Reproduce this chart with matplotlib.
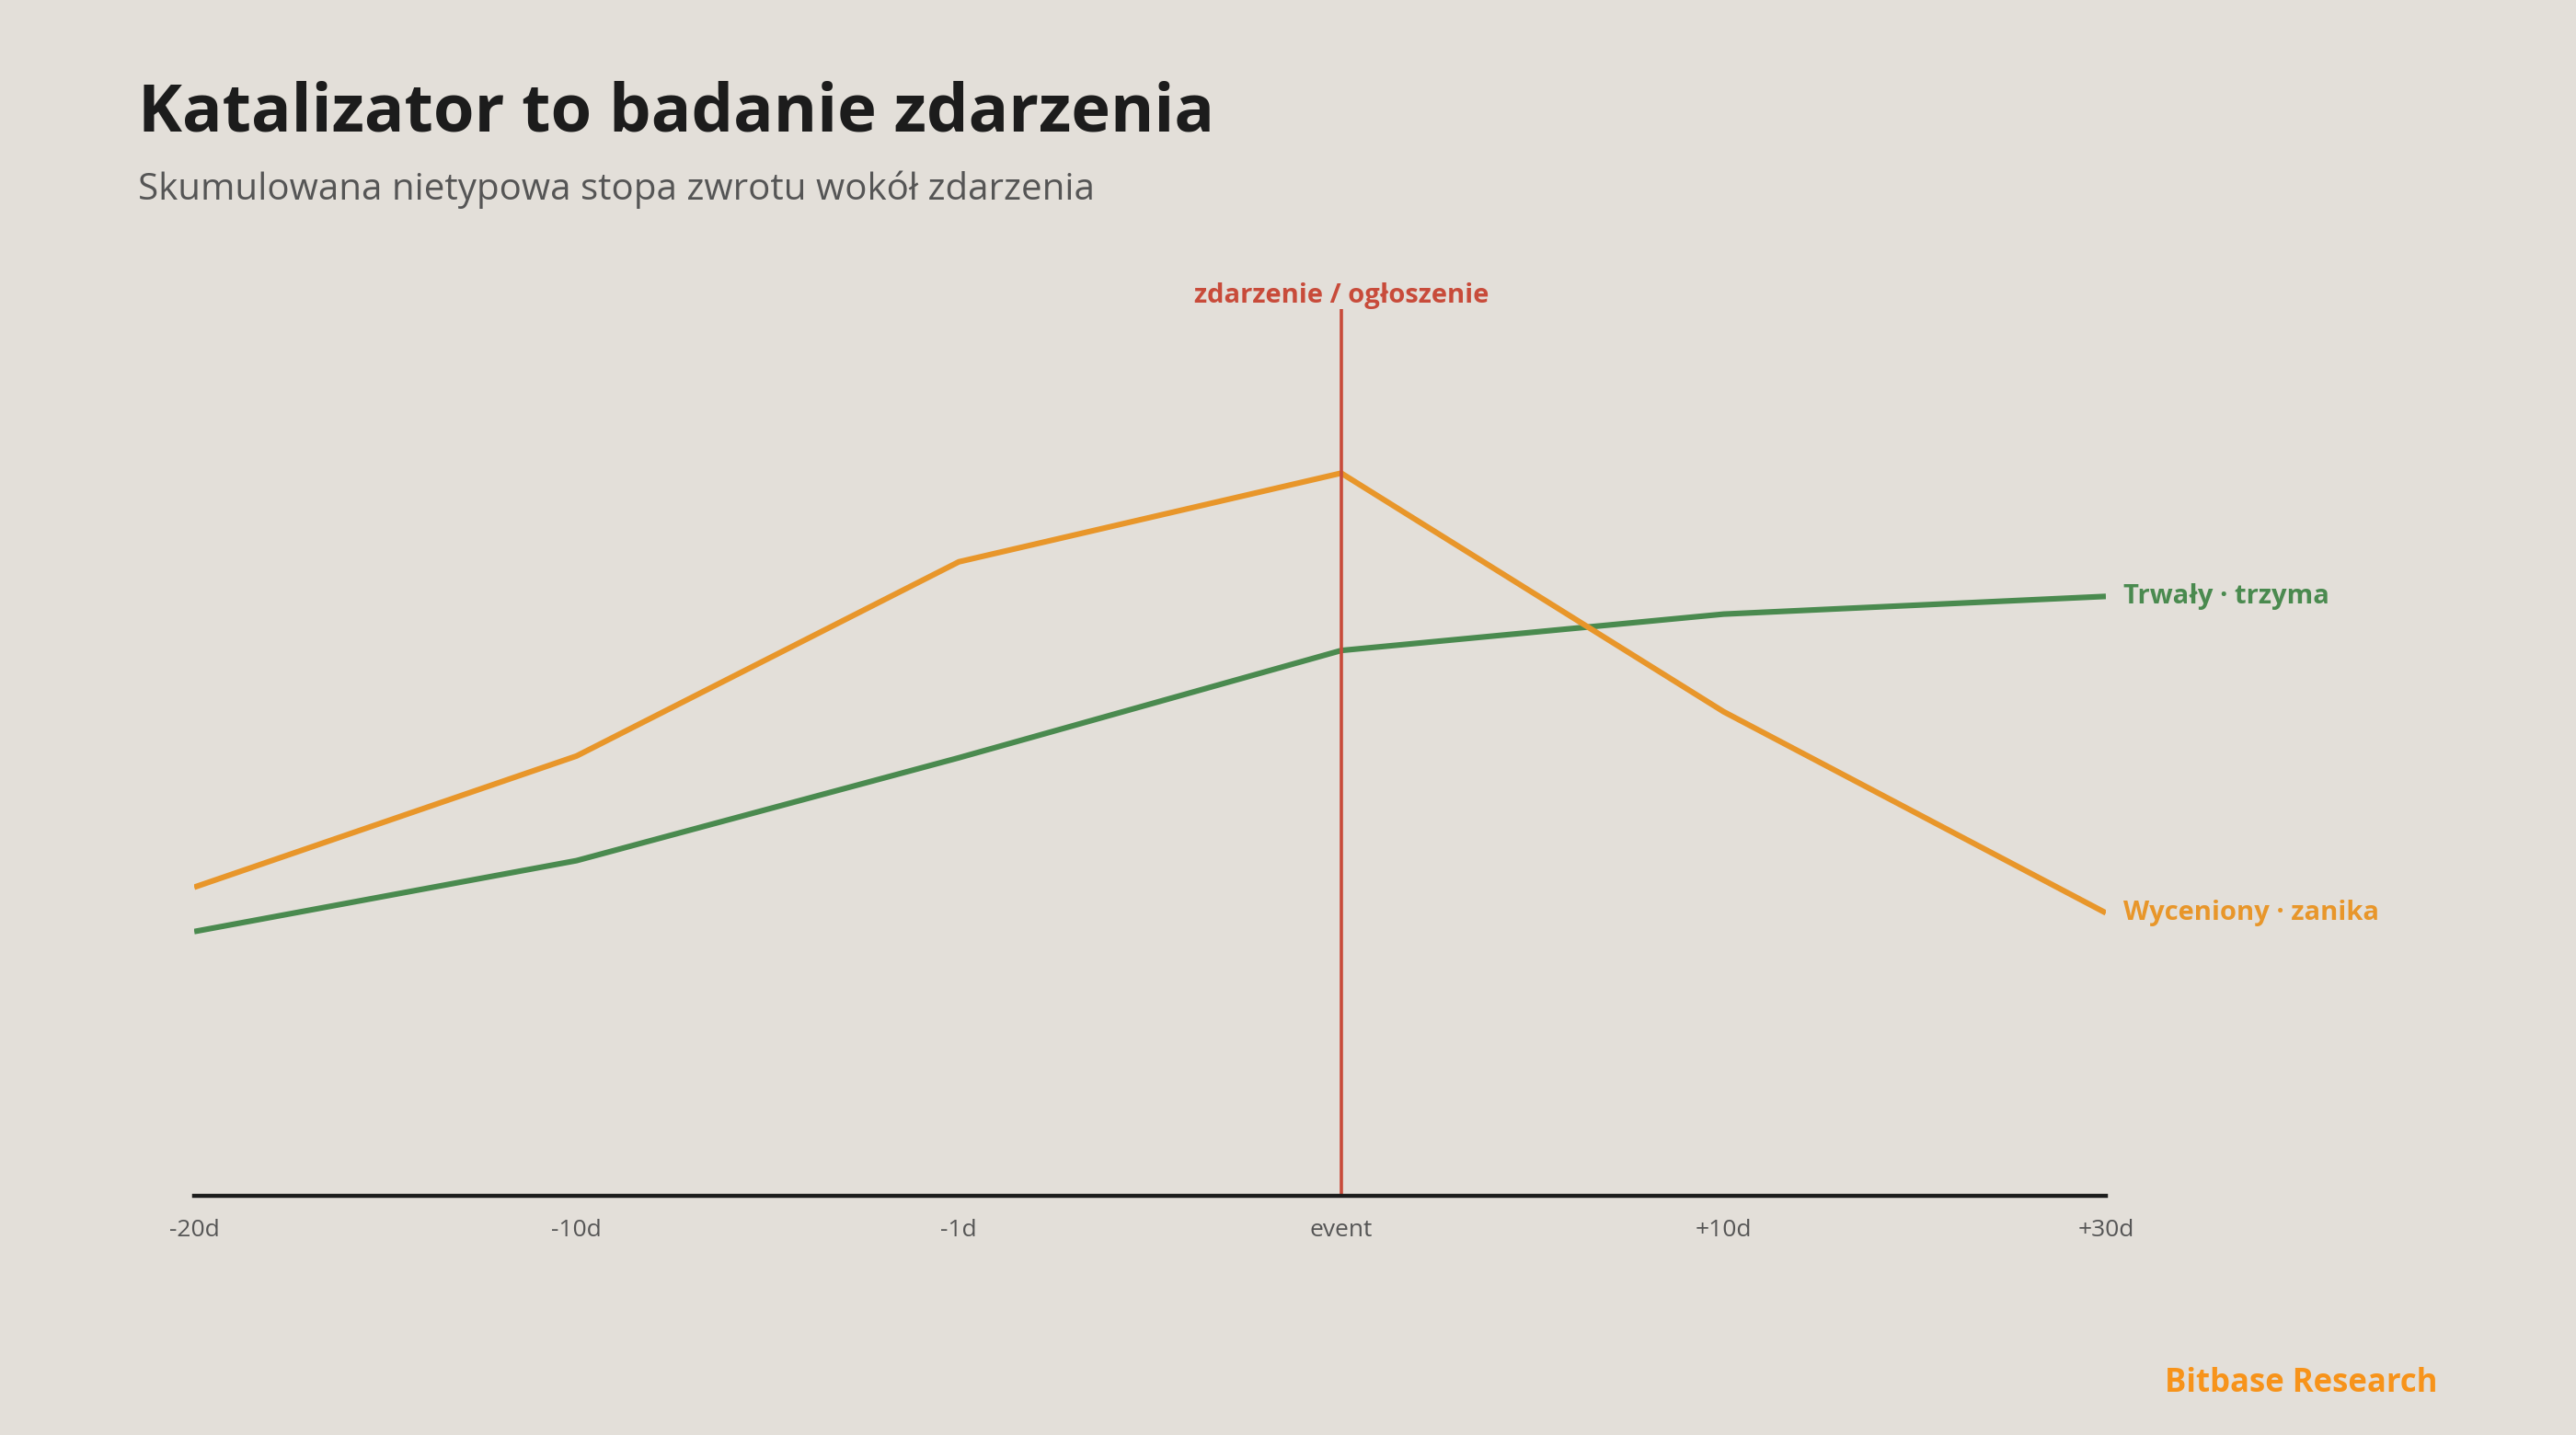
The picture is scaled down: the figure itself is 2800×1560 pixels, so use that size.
import matplotlib
matplotlib.use("Agg")
import matplotlib.pyplot as plt

# Data
categories = ["-20d", "-10d", "-1d", "event", "+10d", "+30d"]
priced_in = [3.48, 4.96, 7.15, 8.15, 5.46, 3.19]     # Wyceniony · zanika
durable = [2.98, 3.78, 4.94, 6.15, 6.56, 6.76]       # Trwały · trzyma
event_idx = 3

title = "Katalizator to badanie zdarzenia"
subtitle = "Skumulowana nietypowa stopa zwrotu wokół zdarzenia"
event_label = "zdarzenie / ogłoszenie"
label_durable = "Trwały · trzyma"
label_priced = "Wyceniony · zanika"
footer = "Bitbase Research"

BG = "#e3dfd9"
ORANGE = "#e8962a"
GREEN = "#4a8a4f"
RED = "#c84b3a"
DARK = "#1c1c1c"
GREY = "#555555"

plt.rcParams["font.family"] = ["Open Sans", "DejaVu Sans"]

fig = plt.figure(figsize=(14, 7.8), dpi=200, facecolor=BG)
ax = fig.add_axes([0.0754, 0.1667, 0.8175 - 0.0754, 0.7846 - 0.1667])
ax.set_facecolor(BG)

x = list(range(len(categories)))
ax.plot(x, durable, color=GREEN, lw=2.2, solid_capstyle="butt", zorder=3)
ax.plot(x, priced_in, color=ORANGE, lw=2.2, solid_capstyle="butt", zorder=3)
ax.axvline(event_idx, color=RED, lw=1.3, zorder=4)

ax.set_xlim(0, len(categories) - 1)
ax.set_ylim(0, 10)
for s in ["top", "right", "left"]:
    ax.spines[s].set_visible(False)
ax.spines["bottom"].set_color(DARK)
ax.spines["bottom"].set_linewidth(1.6)
ax.spines["bottom"].set_zorder(5)
ax.set_yticks([])
ax.set_xticks(x)
ax.set_xticklabels(categories, fontsize=9.5, color=GREY)
ax.tick_params(axis="x", length=0, pad=9)

ax.text(event_idx, 10.15, event_label, ha="center", va="center", color=RED,
        fontsize=10.5, fontweight="bold", zorder=6)
ax.text(x[-1] + 0.045, durable[-1], label_durable, ha="left", va="center",
        color=GREEN, fontsize=10.5, fontweight="bold", clip_on=False)
ax.text(x[-1] + 0.045, priced_in[-1], label_priced, ha="left", va="center",
        color=ORANGE, fontsize=10.5, fontweight="bold", clip_on=False)

fig.text(0.0536, 0.921, title, ha="left", va="center", fontsize=26,
         fontweight="bold", color=DARK)
fig.text(0.0536, 0.868, subtitle, ha="left", va="center", fontsize=14.5,
         color=GREY)
fig.text(0.9464, 0.036, footer, ha="right", va="center", fontsize=12.5,
         fontweight="bold", color="#f7931a")

fig.savefig("out.png", dpi=200, facecolor=BG)
